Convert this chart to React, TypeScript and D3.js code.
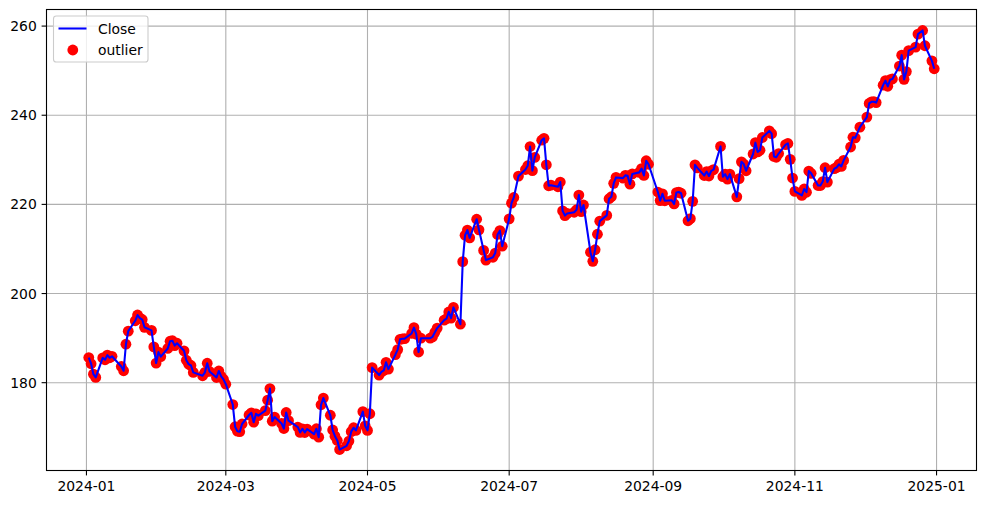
import React from "react";
import * as d3 from "d3";

const tradingDates: string[] = [
  "2024-01-02","2024-01-03","2024-01-04","2024-01-05","2024-01-08","2024-01-09","2024-01-10","2024-01-11","2024-01-12","2024-01-16","2024-01-17","2024-01-18","2024-01-19","2024-01-22","2024-01-23","2024-01-24","2024-01-25","2024-01-26","2024-01-29","2024-01-30","2024-01-31",
  "2024-02-01","2024-02-02","2024-02-05","2024-02-06","2024-02-07","2024-02-08","2024-02-09","2024-02-12","2024-02-13","2024-02-14","2024-02-15","2024-02-16","2024-02-20","2024-02-21","2024-02-22","2024-02-23","2024-02-26","2024-02-27","2024-02-28","2024-02-29",
  "2024-03-01","2024-03-04","2024-03-05","2024-03-06","2024-03-07","2024-03-08","2024-03-11","2024-03-12","2024-03-13","2024-03-14","2024-03-15","2024-03-18","2024-03-19","2024-03-20","2024-03-21","2024-03-22","2024-03-25","2024-03-26","2024-03-27","2024-03-28",
  "2024-04-01","2024-04-02","2024-04-03","2024-04-04","2024-04-05","2024-04-08","2024-04-09","2024-04-10","2024-04-11","2024-04-12","2024-04-15","2024-04-16","2024-04-17","2024-04-18","2024-04-19","2024-04-22","2024-04-23","2024-04-24","2024-04-25","2024-04-26","2024-04-29","2024-04-30",
  "2024-05-01","2024-05-02","2024-05-03","2024-05-06","2024-05-07","2024-05-08","2024-05-09","2024-05-10","2024-05-13","2024-05-14","2024-05-15","2024-05-16","2024-05-17","2024-05-20","2024-05-21","2024-05-22","2024-05-23","2024-05-24","2024-05-28","2024-05-29","2024-05-30","2024-05-31",
  "2024-06-03","2024-06-04","2024-06-05","2024-06-06","2024-06-07","2024-06-10","2024-06-11","2024-06-12","2024-06-13","2024-06-14","2024-06-17","2024-06-18","2024-06-20","2024-06-21","2024-06-24","2024-06-25","2024-06-26","2024-06-27","2024-06-28",
  "2024-07-01","2024-07-02","2024-07-03","2024-07-05","2024-07-08","2024-07-09","2024-07-10","2024-07-11","2024-07-12","2024-07-15","2024-07-16","2024-07-17","2024-07-18","2024-07-19","2024-07-22","2024-07-23","2024-07-24","2024-07-25","2024-07-26","2024-07-29","2024-07-30","2024-07-31",
  "2024-08-01","2024-08-02","2024-08-05","2024-08-06","2024-08-07","2024-08-08","2024-08-09","2024-08-12","2024-08-13","2024-08-14","2024-08-15","2024-08-16","2024-08-19","2024-08-20","2024-08-21","2024-08-22","2024-08-23","2024-08-26","2024-08-27","2024-08-28","2024-08-29","2024-08-30",
  "2024-09-03","2024-09-04","2024-09-05","2024-09-06","2024-09-09","2024-09-10","2024-09-11","2024-09-12","2024-09-13","2024-09-16","2024-09-17","2024-09-18","2024-09-19","2024-09-20","2024-09-23","2024-09-24","2024-09-25","2024-09-26","2024-09-27","2024-09-30",
  "2024-10-01","2024-10-02","2024-10-03","2024-10-04","2024-10-07","2024-10-08","2024-10-09","2024-10-10","2024-10-11","2024-10-14","2024-10-15","2024-10-16","2024-10-17","2024-10-18","2024-10-21","2024-10-22","2024-10-23","2024-10-24","2024-10-25","2024-10-28","2024-10-29","2024-10-30","2024-10-31",
  "2024-11-01","2024-11-04","2024-11-05","2024-11-06","2024-11-07","2024-11-08","2024-11-11","2024-11-12","2024-11-13","2024-11-14","2024-11-15","2024-11-18","2024-11-19","2024-11-20","2024-11-21","2024-11-22","2024-11-25","2024-11-26","2024-11-27","2024-11-29",
  "2024-12-02","2024-12-03","2024-12-04","2024-12-05","2024-12-06","2024-12-09","2024-12-10","2024-12-11","2024-12-12","2024-12-13","2024-12-16","2024-12-17","2024-12-18","2024-12-19","2024-12-20","2024-12-23","2024-12-24","2024-12-26","2024-12-27","2024-12-30","2024-12-31",
];

const closeValues: number[] = [
  185.64,184.25,181.91,181.18,185.56,185.14,186.19,185.59,185.92,183.63,182.68,188.63,191.56,193.89,195.18,194.50,194.17,192.42,191.73,188.04,184.40,
  186.86,185.85,187.68,189.30,189.41,188.32,188.85,187.15,185.04,184.15,183.86,182.31,181.56,182.32,184.37,182.52,181.16,182.63,181.42,180.75,
  179.66,175.10,170.12,169.12,169.00,170.73,172.75,173.23,171.13,173.00,172.62,173.72,176.08,178.67,171.37,172.28,170.85,169.71,173.31,171.48,
  170.03,168.84,169.65,168.82,169.58,168.45,169.67,167.78,175.04,176.55,172.69,169.38,168.00,167.04,165.00,165.84,166.90,169.02,169.89,169.30,173.50,170.33,
  169.30,173.03,183.38,181.71,182.40,182.74,184.57,183.05,186.28,187.43,189.72,189.84,189.87,191.04,192.35,190.90,186.88,189.98,189.99,190.29,191.29,192.25,
  194.03,194.35,195.87,194.48,196.89,193.12,207.15,213.07,214.24,212.49,216.67,214.29,209.68,207.49,208.14,209.07,213.25,214.10,210.62,
  216.75,220.27,221.55,226.34,227.82,228.68,232.98,227.57,230.54,234.40,234.82,228.88,224.18,224.31,223.96,225.01,218.54,217.49,217.96,218.24,218.80,222.08,
  218.36,219.86,209.27,207.23,209.82,213.31,216.24,217.53,221.27,221.72,224.72,226.05,225.89,226.51,226.40,224.53,226.84,227.18,228.03,226.49,229.79,229.00,
  222.77,220.85,222.38,220.82,220.91,220.11,222.66,222.77,222.50,216.32,216.79,220.69,228.87,228.20,226.47,227.37,226.37,227.52,227.79,233.00,
  226.21,226.78,225.67,226.80,221.69,225.77,229.54,229.04,227.55,231.30,233.85,231.78,232.15,235.00,236.48,235.86,230.76,230.57,231.41,233.40,233.67,230.10,225.91,
  222.91,222.01,223.45,222.72,227.48,226.96,224.23,224.23,225.12,228.22,225.00,228.02,228.28,229.00,228.52,229.87,232.87,235.06,234.93,237.33,
  239.59,242.65,243.01,243.04,242.84,246.75,247.77,246.49,247.96,248.13,251.04,253.48,248.05,249.79,254.49,255.27,258.20,259.02,255.59,252.20,250.42,
];

const xTickLabels: string[] = ["2024-01","2024-03","2024-05","2024-07","2024-09","2024-11","2025-01"];
const yTickValues: number[] = [180, 200, 220, 240, 260];
const seriesNames: string[] = ["Close", "outlier"];

const W = 986;
const H = 505;
const L = 46.5, R = 976.5, T = 9.5, B = 470.5;
const FONT = "'DejaVu Sans', sans-serif";
const MR = 5.4;

export default function App() {
  const parse = d3.utcParse("%Y-%m-%d");
  const parseMonth = d3.utcParse("%Y-%m");
  const data = tradingDates.map((d, i) => ({ date: parse(d) as Date, value: closeValues[i] }));

  const [x0, x1] = d3.extent(data, (d) => d.date.getTime()) as [number, number];
  const xPad = (x1 - x0) * 0.05;
  const x = d3.scaleUtc().domain([new Date(x0 - xPad), new Date(x1 + xPad)]).range([L, R]);

  const [y0, y1] = d3.extent(data, (d) => d.value) as [number, number];
  const yPad = (y1 - y0) * 0.05;
  const y = d3.scaleLinear().domain([y0 - yPad, y1 + yPad]).range([B, T]);

  const line = d3
    .line<{ date: Date; value: number }>()
    .x((d) => x(d.date))
    .y((d) => y(d.value));

  const xTicks = xTickLabels.map((s) => ({ label: s, pos: x(parseMonth(s) as Date) }));

  return (
    <svg
      width={W}
      height={H}
      style={{ position: "absolute", left: 0, top: 0, display: "block", background: "#fff" }}
      fontFamily={FONT}
    >
      <rect x={0} y={0} width={W} height={H} fill="#fff" />
      <g stroke="#b0b0b0" strokeWidth={1.1}>
        {xTicks.map((t) => (
          <line key={"gx" + t.label} x1={t.pos} x2={t.pos} y1={T} y2={B} />
        ))}
        {yTickValues.map((v) => (
          <line key={"gy" + v} x1={L} x2={R} y1={y(v)} y2={y(v)} />
        ))}
      </g>
      <g fill="#ff0000">
        {data.map((d, i) => (
          <circle key={i} cx={x(d.date)} cy={y(d.value)} r={MR} />
        ))}
      </g>
      <path d={line(data) || ""} fill="none" stroke="#0000ff" strokeWidth={2.08} strokeLinejoin="round" strokeLinecap="butt" />
      <rect x={L} y={T} width={R - L} height={B - T} fill="none" stroke="#000" strokeWidth={1.1} />
      <g>
        {xTicks.map((t) => (
          <g key={"tx" + t.label}>
            <line x1={t.pos} x2={t.pos} y1={B} y2={B + 4.9} stroke="#000" strokeWidth={1.1} />
            <text x={t.pos} y={B + 20.5} textAnchor="middle" fontSize={13.9} fill="#000">
              {t.label}
            </text>
          </g>
        ))}
      </g>
      <g>
        {yTickValues.map((v) => (
          <g key={"ty" + v}>
            <line x1={L - 4.9} x2={L} y1={y(v)} y2={y(v)} stroke="#000" strokeWidth={1.1} />
            <text x={L - 9.7} y={y(v)} dy="0.36em" textAnchor="end" fontSize={13.9} fill="#000">
              {v}
            </text>
          </g>
        ))}
      </g>
      <g>
        <rect x={53.5} y={16} width={94.5} height={46} rx={2.8} ry={2.8} fill="#fff" fillOpacity={0.8} stroke="#cccccc" strokeWidth={1.1} />
        <line x1={58.5} x2={86.5} y1={28.5} y2={28.5} stroke="#0000ff" strokeWidth={2.08} />
        <text x={98} y={28.5} dy="0.36em" fontSize={13.9} fill="#000">{seriesNames[0]}</text>
        <circle cx={72.8} cy={50} r={MR} fill="#ff0000" />
        <text x={98} y={49.5} dy="0.36em" fontSize={13.9} fill="#000">{seriesNames[1]}</text>
      </g>
    </svg>
  );
}
